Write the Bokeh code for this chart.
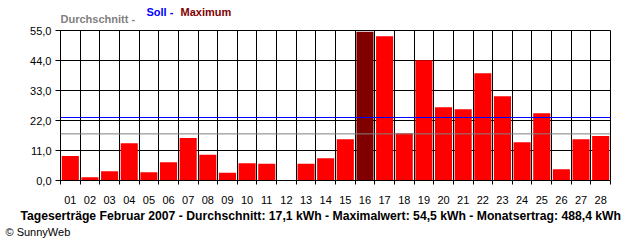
from bokeh.plotting import figure
from bokeh.models import Range1d, FixedTicker, Span, Title, ColumnDataSource
from bokeh.embed import file_html
from bokeh.resources import INLINE

# ---- data ----
days = ["01", "02", "03", "04", "05", "06", "07", "08", "09", "10", "11", "12", "13", "14",
        "15", "16", "17", "18", "19", "20", "21", "22", "23", "24", "25", "26", "27", "28"]
values = [9.0, 1.2, 3.4, 13.7, 3.0, 6.7, 15.6, 9.4, 2.8, 6.3, 6.1, 0.0, 6.1, 8.2,
          15.1, 54.5, 52.9, 17.3, 44.1, 26.9, 26.1, 39.3, 30.9, 14.0, 24.7, 4.1, 15.1, 16.3]
y_ticks = [0, 11, 22, 33, 44, 55]
y_tick_labels = ["0,0", "11,0", "22,0", "33,0", "44,0", "55,0"]
average = 17.1
soll = 23.1
maximum = 54.5
month_total = 488.4
month_name = "Februar 2007"

FONT = "Liberation Sans"

x = list(range(1, len(days) + 1))
max_v = max(values)
colors = ["#800000" if v == max_v else "#FF0000" for v in values]
src = ColumnDataSource(dict(x=x, top=values, color=colors))

p = figure(width=640, height=240, output_backend="svg", toolbar_location=None,
           x_range=Range1d(0.5, len(days) + 0.5), y_range=Range1d(0, 55),
           min_border_left=60, min_border_right=30, min_border_top=30, min_border_bottom=60)
p.background_fill_color = "white"
p.border_fill_color = "white"
p.outline_line_color = "black"

# grids
p.xgrid.ticker = FixedTicker(ticks=[i + 0.5 for i in range(0, len(days) + 1)])
p.xgrid.grid_line_color = "black"
p.ygrid.grid_line_color = "black"

p.vbar(x="x", top="top", width=0.87, fill_color="color", line_color=None, source=src)

p.add_layout(Span(location=average, dimension="width", line_color="#808080", line_width=1, level="overlay"))
p.add_layout(Span(location=soll, dimension="width", line_color="#0000FF", line_width=1, level="overlay"))

# x axis
xa = p.xaxis[0]
xa.ticker = FixedTicker(ticks=x, minor_ticks=[i + 0.5 for i in range(0, len(days) + 1)])
xa.major_label_overrides = {i: d for i, d in zip(x, days)}
xa.major_tick_line_color = None
xa.major_tick_out = 0
xa.major_tick_in = 0
xa.minor_tick_line_color = "black"
xa.minor_tick_out = 4
xa.minor_tick_in = 0
xa.axis_line_color = "black"
xa.major_label_standoff = 11
xa.major_label_text_font = FONT
xa.major_label_text_font_size = "11px"
xa.major_label_text_color = "black"

# y axis
ya = p.yaxis[0]
ya.ticker = FixedTicker(ticks=y_ticks)
ya.major_label_overrides = {t: l for t, l in zip(y_ticks, y_tick_labels)}
ya.major_tick_line_color = "black"
ya.major_tick_out = 5
ya.major_tick_in = 0
ya.minor_tick_line_color = None
ya.axis_line_color = "black"
ya.major_label_standoff = 4
ya.major_label_text_font = FONT
ya.major_label_text_font_size = "11px"
ya.major_label_text_color = "black"

# top legend-title: three coloured pieces on one line
def top_piece(text, color, offset, standoff):
    p.add_layout(Title(text=text, align="left", offset=offset, standoff=standoff,
                       text_color=color, text_font=FONT, text_font_size="11px",
                       text_font_style="bold"), "above")

top_piece("Durchschnitt -", "#808080", 0, 12)
top_piece("Soll -", "#0000FF", 86, -27)
top_piece("Maximum", "#800000", 120, -27)

fmt = lambda v: ("%.1f" % v).replace(".", ",")
bottom = ("Tageserträge %s - Durchschnitt: %s kWh - Maximalwert: %s kWh - Monatsertrag: %s kWh"
          % (month_name, fmt(average), fmt(maximum), fmt(month_total)))
p.add_layout(Title(text=bottom, align="left", offset=-40, standoff=1, text_color="black",
                   text_font=FONT, text_font_size="12.2px", text_font_style="bold"), "below")
p.add_layout(Title(text="© SunnyWeb", align="left", offset=-55, standoff=1, text_color="black",
                   text_font=FONT, text_font_size="11px", text_font_style="normal"), "below")

open("out.html", "w").write(file_html(p, INLINE))
